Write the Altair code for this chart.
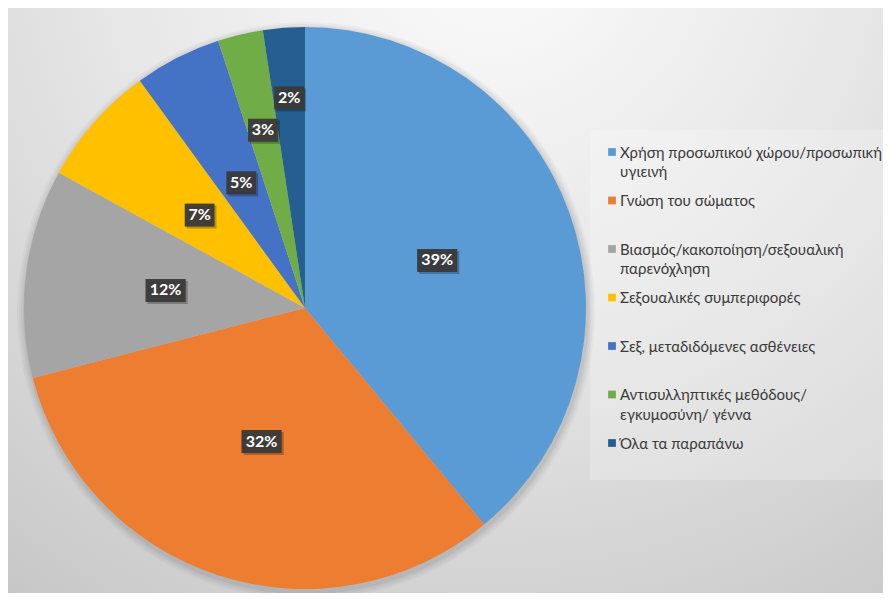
import math
import altair as alt
import pandas as pd

# ---- data ----
categories = [
    "Χρήση προσωπικού χώρου/προσωπική\nυγιεινή",
    "Γνώση του σώματος",
    "Βιασμός/κακοποίηση/σεξουαλική\nπαρενόχληση",
    "Σεξουαλικές συμπεριφορές",
    "Σεξ, μεταδιδόμενες ασθένειες",
    "Αντισυλληπτικές μεθόδους/\nεγκυμοσύνη/ γέννα",
    "Όλα τα παραπάνω",
]
values = [39, 32, 12, 7, 5, 2.6, 2.4]
colors = ["#5B9BD5", "#ED7D31", "#A5A5A5", "#FFC000", "#4472C4", "#70AD47", "#255E91"]

# ---- layout ----
W, H = 875, 585
CX, CY, R = 297, 300, 281
LEG_X, LEG_Y0, LEG_STEP = 604, 144, 48.5
FONT = "Lato"

df = pd.DataFrame({"category": categories, "value": values, "order": list(range(len(categories)))})
one = pd.DataFrame({"k": [0]})

# background with radial gradient
bg = alt.Chart(one).mark_rect(
    fill=alt.RadialGradient(
        gradient="radial",
        stops=[
            alt.GradientStop(color="#fcfcfc", offset=0),
            alt.GradientStop(color="#e6e6e6", offset=0.45),
            alt.GradientStop(color="#d0d0d0", offset=0.8),
            alt.GradientStop(color="#c2c2c2", offset=1),
        ],
        x1=0.55, y1=0.08, r1=0, x2=0.55, y2=0.08, r2=1.0,
    )
).encode(x=alt.value(0), x2=alt.value(W), y=alt.value(0), y2=alt.value(H))

# legend panel (faint lighter box)
legbox = alt.Chart(one).mark_rect(fill="white", opacity=0.22).encode(
    x=alt.value(582), x2=alt.value(W), y=alt.value(122), y2=alt.value(472)
)

# soft shadow around the pie
shadow_layers = []
for k, op in [(8, 0.04), (6, 0.05), (4, 0.06), (2, 0.08)]:
    shadow_layers.append(
        alt.Chart(one).mark_arc(radius=R + k, theta=0, theta2=2 * math.pi, color="#505050", opacity=op)
        .encode(x=alt.value(CX + 1), y=alt.value(CY + 3))
    )

pie = alt.Chart(df).mark_arc(outerRadius=R).encode(
    theta=alt.Theta("value:Q", stack=True),
    color=alt.Color("category:N", scale=alt.Scale(domain=categories, range=colors), legend=None),
    order=alt.Order("order:Q"),
    x=alt.value(CX),
    y=alt.value(CY),
)

lab = (
    alt.Chart(df)
    .transform_joinaggregate(total="sum(value)")
    .transform_window(cum="sum(value)", sort=[alt.SortField("order")], frame=[None, 0])
    .transform_calculate(
        mid="(datum.cum - datum.value/2)/datum.total*2*PI",
        rf="datum.value >= 4 ? 0.5 : (datum.value >= 2.5 ? 0.65 : 0.75)",
    )
    .transform_calculate(
        px=f"{CX} + {R}*datum.rf*sin(datum.mid)",
        py=f"{CY} - {R}*datum.rf*cos(datum.mid)",
        label="format(datum.value/datum.total, '.0%')",
    )
    .transform_calculate(
        hw="4.5 + length(datum.label)*5.2",
    )
    .transform_calculate(
        bx="datum.px - datum.hw",
        bx2="datum.px + datum.hw",
        by="datum.py - 11.5",
        by2="datum.py + 11.5",
        sx="datum.px - datum.hw + 2",
        sx2="datum.px + datum.hw + 2",
        sy="datum.py - 11.5 + 2",
        sy2="datum.py + 11.5 + 2",
    )
)

box_shadow = lab.mark_rect(color="#000000", opacity=0.25).encode(
    x=alt.X("sx:Q", scale=None), x2="sx2:Q", y=alt.Y("sy:Q", scale=None), y2="sy2:Q"
)
box = lab.mark_rect(color="#3a3a3a", opacity=0.95).encode(
    x=alt.X("bx:Q", scale=None), x2="bx2:Q", y=alt.Y("by:Q", scale=None), y2="by2:Q"
)
txt = lab.mark_text(font=FONT, fontWeight="bold", fontSize=16, color="white", baseline="middle", align="center").encode(
    x=alt.X("px:Q", scale=None), y=alt.Y("py:Q", scale=None), text="label:N"
)

leg = alt.Chart(df).transform_calculate(
    ly=f"{LEG_Y0} + {LEG_STEP}*datum.order",
    ty=f"{LEG_Y0} + {LEG_STEP}*datum.order - 6.5",
)
leg_sq = leg.mark_point(shape="square", filled=True, size=60, opacity=1).encode(
    x=alt.value(LEG_X),
    y=alt.Y("ly:Q", scale=None),
    color=alt.Color("category:N", scale=alt.Scale(domain=categories, range=colors), legend=None),
)
leg_tx = leg.mark_text(font=FONT, fontSize=15, color="#3a3a3a", align="left", baseline="top", lineBreak="\n", lineHeight=19.5).encode(
    x=alt.value(LEG_X + 8),
    y=alt.Y("ty:Q", scale=None),
    text="category:N",
)

chart = alt.layer(
    bg, legbox, *shadow_layers, pie, box_shadow, box, txt, leg_sq, leg_tx
).properties(
    width=W, height=H, autosize=alt.AutoSizeParams(type="none"), padding=0, background="white"
).configure_view(stroke=None)

chart.save("out.html", embed_options={"renderer": "svg", "actions": False})
